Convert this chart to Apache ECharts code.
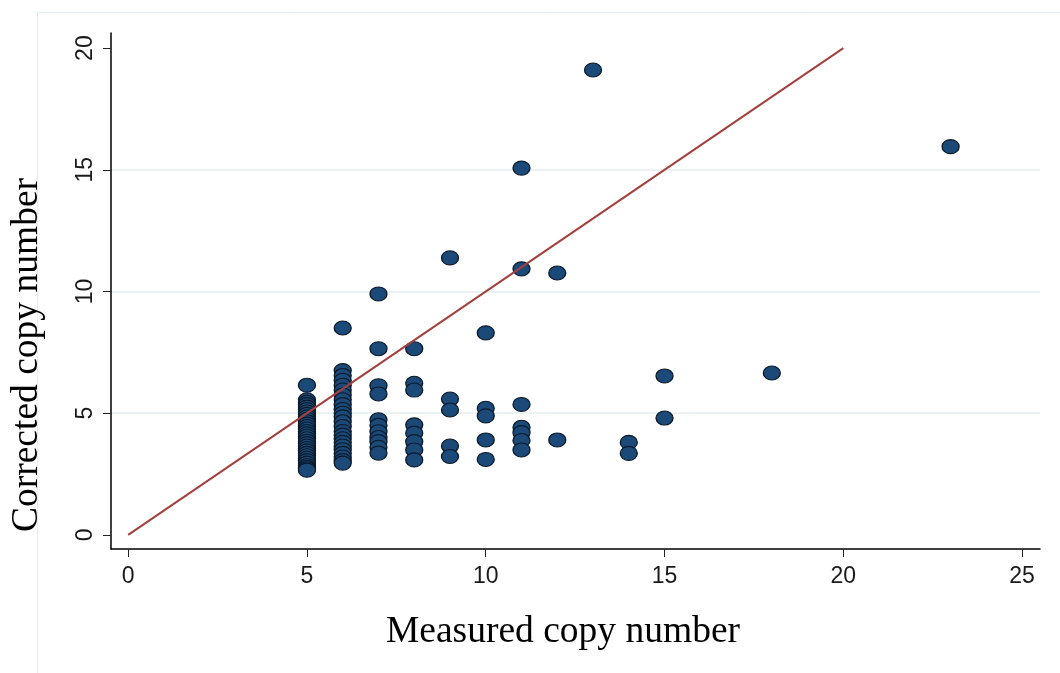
<!DOCTYPE html>
<html>
<head>
<meta charset="utf-8">
<script src="https://cdn.jsdelivr.net/npm/echarts@6/dist/echarts.min.js"></script>
<style>
html,body{margin:0;padding:0;background:#fff;}
#chart{width:1060px;height:673px;}
</style>
</head>
<body>
<div id="chart"></div>
<script>
// Measured copy number (x) for each column of points
const measuredValues = [5, 6, 7, 8, 9, 10, 11, 12, 13, 14, 15, 18, 23];
// Corrected copy number (y) for each column, same order as measuredValues
const correctedAt5 = [6.15, 5.55, 5.45, 5.35, 5.25, 5.15, 5.05, 4.95, 4.85, 4.75, 4.65, 4.55, 4.45, 4.35, 4.25, 4.15, 4.05, 3.95, 3.85, 3.75, 3.65, 3.55, 3.45, 3.35, 3.25, 3.15, 3.05, 2.95, 2.85, 2.78, 2.72, 2.66];
const correctedAt6 = [8.5, 6.75, 6.55, 6.35, 6.15, 5.95, 5.75, 5.55, 5.35, 5.15, 5.0, 4.85, 4.65, 4.45, 4.25, 4.1, 3.95, 3.8, 3.65, 3.5, 3.35, 3.2, 3.05, 2.95];
const correctedAt7 = [9.9, 7.65, 6.13, 5.79, 4.73, 4.5, 4.24, 4.0, 3.83, 3.6, 3.36];
const correctedAt8 = [7.65, 6.23, 5.95, 4.52, 4.18, 3.83, 3.49, 3.08];
const correctedAt9 = [11.38, 5.58, 5.13, 3.65, 3.22];
const correctedAt10 = [8.3, 5.2, 4.89, 3.9, 3.1];
const correctedAt11 = [15.07, 10.93, 5.36, 4.42, 4.2, 3.88, 3.49];
const correctedAt12 = [10.76, 3.9];
const correctedAt13 = [19.1];
const correctedAt14 = [3.8, 3.35];
const correctedAt15 = [6.53, 4.8];
const correctedAt18 = [6.65];
const correctedAt23 = [15.95];
const correctedValues = [correctedAt5, correctedAt6, correctedAt7, correctedAt8, correctedAt9, correctedAt10, correctedAt11, correctedAt12, correctedAt13, correctedAt14, correctedAt15, correctedAt18, correctedAt23];
// Reference (identity) line endpoints
const identityLine = [[0, 0], [20, 20]];
const xTicks = [0, 5, 10, 15, 20, 25];
const yTicks = [0, 5, 10, 15, 20];

const points = [];
measuredValues.forEach((m, i) => correctedValues[i].forEach(c => points.push([m, c])));

const chart = echarts.init(document.getElementById('chart'), null, {renderer: 'canvas'});
const tickFont = {fontFamily: 'Liberation Sans, Arial, sans-serif', fontSize: 23, color: '#1a1a1a'};
chart.setOption({
  animation: false,
  backgroundColor: '#ffffff',
  grid: {left: 111, top: 33, right: 20, bottom: 124, containLabel: false},
  xAxis: {
    type: 'value', min: -0.48, max: 25.5,
    axisLine: {show: true, onZero: false, lineStyle: {color: '#000', width: 1.5}},
    axisTick: {show: true, customValues: xTicks, length: 8, lineStyle: {color: '#222', width: 1}},
    axisLabel: Object.assign({customValues: xTicks, margin: 16}, tickFont),
    splitLine: {show: false}
  },
  yAxis: {
    type: 'value', min: -0.58, max: 20.62,
    axisLine: {show: true, onZero: false, lineStyle: {color: '#000', width: 1.5}},
    axisTick: {show: true, customValues: yTicks, length: 8, lineStyle: {color: '#222', width: 1}},
    axisLabel: Object.assign({customValues: yTicks, rotate: 90, margin: 14}, tickFont),
    splitLine: {show: true, showMinLine: false, showMaxLine: false, lineStyle: {color: '#e5eef1', width: 1.5}}
  },
  series: [
    {
      type: 'line', data: identityLine, symbol: 'none', z: 3,
      lineStyle: {color: '#a3403e', width: 2}
    },
    {
      type: 'scatter', data: points, symbol: 'circle', symbolSize: [17, 14], z: 2,
      itemStyle: {color: '#1c4a78', borderColor: '#0a1a2c', borderWidth: 1.2, opacity: 1}
    }
  ],
  graphic: [
    {type: 'rect', shape: {x: 37.5, y: 12.5, width: 1200, height: 800}, style: {fill: 'none', stroke: '#e4edf0', lineWidth: 1}, z: -10},
    {type: 'text', x: 563, y: 632, style: {text: 'Measured copy number', font: '37.5px "Liberation Serif", "Times New Roman", serif', fill: '#000', textAlign: 'center', textVerticalAlign: 'middle'}},
    {type: 'text', x: 27, y: 355, rotation: Math.PI / 2, style: {text: 'Corrected copy number', font: '37.5px "Liberation Serif", "Times New Roman", serif', fill: '#000', textAlign: 'center', textVerticalAlign: 'middle'}}
  ]
});
</script>
</body>
</html>
